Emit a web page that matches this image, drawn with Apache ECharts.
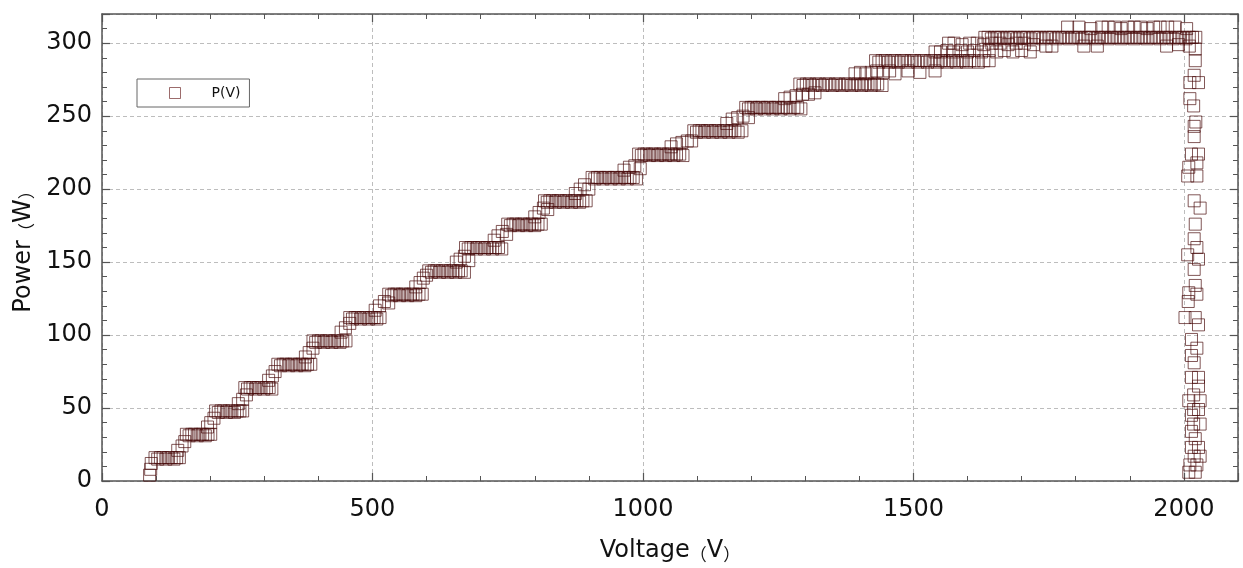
<!DOCTYPE html>
<html>
<head>
<meta charset="utf-8">
<title>P(V)</title>
<script src="https://cdn.jsdelivr.net/npm/echarts@6/dist/echarts.min.js"></script>
<style>
  html, body { margin: 0; padding: 0; background: #fff; }
  #chart { width: 1243px; height: 568px; }
</style>
</head>
<body>
<div id="chart"></div>
<script>
// rising part of the curve, [voltage, power]
var rising = [
  [88,4],[90,8],[91,12],
  [98,16],[103,15],[108,16],[113,16],[118,15],[123,16],[128,16],[133,15],[138,16],[143,16],
  [140,21],[148,24],[153,27],
  [156,32],[161,31],[166,32],[171,32],[176,31],[181,32],[186,32],[191,31],[196,32],[201,32],
  [195,37],[201,40],[207,43],
  [210,48],[215,47],[220,48],[225,48],[230,47],[235,48],[240,48],[245,47],[250,48],[255,48],[260,48],
  [252,53],[260,56],[267,59],
  [264,64],[269,63],[274,64],[279,64],[284,63],[289,64],[294,64],[299,63],[304,64],[309,64],[314,63],
  [308,69],[315,72],[320,75],
  [325,80],[330,79],[335,80],[340,80],[345,79],[350,80],[355,80],[360,79],[365,80],[370,80],[375,79],[380,80],[386,80],
  [376,85],[383,88],[390,91],
  [390,96],[395,95],[400,96],[405,96],[410,95],[415,96],[420,96],[425,95],[430,96],[435,96],[440,95],[445,96],[451,96],
  [442,102],[450,105],[458,108],
  [458,112],[463,111],[468,112],[473,112],[478,111],[483,112],[488,112],[493,111],[498,112],[503,112],[508,111],[514,112],
  [505,117],[513,120],[522,123],[530,122],
  [530,128],[535,127],[540,128],[545,128],[550,127],[555,128],[560,128],[565,127],[570,128],[575,128],[580,127],[586,128],[592,128],
  [580,133],[588,136],[594,139],[600,141],
  [604,144],[609,143],[614,144],[619,144],[624,143],[629,144],[634,144],[639,143],[644,144],[649,144],[654,143],[659,144],[664,144],[670,143],
  [655,150],[662,152],[670,154],[678,151],
  [672,160],[677,159],[682,160],[687,160],[692,159],[697,160],[702,160],[707,159],[712,160],[717,160],[722,159],[727,160],[733,160],[739,159],
  [725,165],[732,168],[740,171],[748,169],
  [750,176],[755,175],[760,176],[765,176],[770,175],[775,176],[780,176],[785,175],[790,176],[795,176],[800,175],[806,176],[812,176],
  [800,181],[808,184],[816,187],[824,186],
  [818,192],[823,191],[828,192],[833,192],[838,191],[843,192],[848,192],[853,191],[858,192],[863,192],[868,191],[873,192],[878,192],[883,191],[889,192],[895,192],
  [875,197],[884,200],[892,203],[900,200],
  [906,208],[911,207],[916,208],[921,208],[926,207],[931,208],[936,208],[941,207],[946,208],[951,208],[956,207],[961,208],[966,208],[971,207],[976,208],[982,208],[988,207],
  [965,213],[975,215],[985,216],[995,214],
  [992,224],[997,223],[1002,224],[1007,224],[1012,223],[1017,224],[1022,224],[1027,223],[1032,224],[1037,224],[1042,223],[1047,224],[1052,224],[1057,223],[1062,224],[1068,224],[1074,223],
  [1052,229],[1062,231],[1072,232],[1082,233],[1090,233],
  [1094,240],[1099,239],[1104,240],[1109,240],[1114,239],[1119,240],[1124,240],[1129,239],[1134,240],[1139,240],[1144,239],[1149,240],[1154,240],[1159,239],[1164,240],[1170,240],[1176,239],[1183,240],
  [1155,245],[1165,248],[1175,249],[1185,250],[1195,249],
  [1190,256],[1195,255],[1200,256],[1205,256],[1210,255],[1215,256],[1220,256],[1225,255],[1230,256],[1235,256],[1240,255],[1245,256],[1250,256],[1255,255],[1260,256],[1266,256],[1272,255],[1279,256],[1286,256],[1292,255],
  [1262,262],[1272,263],[1283,264],[1295,265],[1306,265],[1318,266],
  [1290,272],[1296,271],[1302,272],[1308,272],[1314,271],[1320,272],[1326,272],[1332,271],[1338,272],[1344,272],[1350,271],[1356,272],[1362,272],[1368,271],[1374,272],[1380,272],[1386,271],[1392,272],[1398,272],[1404,271],[1410,272],[1416,272],[1422,271],[1428,272],[1434,272],[1442,271],
  [1392,279],[1402,280],[1412,279],[1422,280],[1432,281],[1444,280],[1456,281],[1466,279],[1490,281],[1512,280],[1540,281],
  [1430,288],[1436,287],[1442,288],[1448,288],[1454,287],[1460,288],[1466,288],[1472,287],[1478,288],[1484,288],[1490,287],[1496,288],[1502,288],[1508,287],[1514,288],[1520,288],[1526,287],[1532,288],[1538,288],[1544,287],[1550,288],[1556,288],[1562,287],[1568,288],[1574,288],[1580,287],[1586,288],[1592,288],[1598,287],[1604,288],[1612,288],[1620,287],[1630,288],[1640,288],
  [1540,294],[1550,294],[1562,295],[1574,294],[1588,295],[1600,294],[1612,295],[1626,294],[1640,295],[1654,294],[1668,295],[1684,294],[1700,295],[1716,294],
  [1565,300],[1575,300],[1590,299],[1604,300],[1618,300],[1630,299],[1645,300],[1660,300],[1675,299],[1690,300],[1705,300],[1722,299]
];

// plateau near the maximum power point
var plateau = [
  [1632,304],[1638,304],[1644,303],[1650,304],[1656,304],[1662,304],[1668,303],[1674,304],[1680,304],[1686,304],
  [1692,303],[1698,304],[1704,304],[1710,304],[1716,303],[1722,304],[1728,304],[1734,304],[1740,303],[1746,304],
  [1752,304],[1758,304],[1764,303],[1770,304],[1776,304],[1782,304],[1788,303],[1794,304],[1800,304],[1806,304],
  [1812,303],[1818,304],[1824,304],[1830,304],[1836,303],[1842,304],[1848,304],[1854,304],[1860,303],[1866,304],
  [1872,304],[1878,304],[1884,303],[1890,304],[1896,304],[1902,304],[1908,303],[1914,304],[1920,304],[1926,304],
  [1932,303],[1938,304],[1944,304],[1950,304],[1956,303],[1962,304],[1968,304],[1974,304],[1980,303],[1986,304],
  [1992,304],[1998,304],[2004,303],[2010,304],[2016,304],[2022,304],
  [1785,311],[1806,311],[1828,310],[1848,311],[1860,311],[1872,311],[1884,310],[1896,311],[1908,311],[1920,311],
  [1932,310],[1944,311],[1956,311],[1970,311],[1984,311],[2005,310],
  [1745,298],[1756,298],[1815,298],[1840,298],[1968,298],[1990,299],[2010,298]
];

// steep drop at open-circuit voltage
var drop = [
  [2021,296],[2021,288],[2019,278],[2011,273],[2027,273],[2011,262],[2018,257],[2022,246],[2019,243],[2019,236],
  [2014,224],[2027,224],[2024,218],[2009,215],[2007,209],[2024,209],[2019,192],[2030,187],[2021,176],[2019,166],
  [2024,160],[2007,155],[2027,152],[2019,145],[2021,134],[2009,129],[2024,128],[2008,123],[2002,112],[2021,112],
  [2027,107],[2014,97],[2024,91],[2014,86],[2019,81],[2014,71],[2027,71],[2027,65],[2018,59],[2009,55],
  [2030,55],[2018,49],[2027,49],[2014,45],[2018,39],[2030,39],[2014,34],[2021,29],[2014,23],[2027,23],
  [2019,17],[2030,17],[2011,11],[2024,11],[2009,6],[2021,6]
];

var points = rising.concat(plateau, drop);

var chart = echarts.init(document.getElementById('chart'));

var axisColor = '#555';
var labelFont = { fontFamily: 'DejaVu Sans', fontSize: 24, color: '#111' };
var markColor = 'rgba(72,10,10,0.85)';
var nameRich = {
  t: { fontFamily: 'DejaVu Sans', fontSize: 24, color: '#111' },
  p: { fontFamily: 'Noto Sans CJK SC', fontSize: 17, color: '#111', verticalAlign: 'bottom' }
};

function boxAxis(pos, min, max, interval) {
  return {
    type: 'value',
    position: pos,
    min: min,
    max: max,
    interval: interval,
    axisLine: { show: true, onZero: false, lineStyle: { color: axisColor, width: 1.5 } },
    axisTick: { show: true, inside: true, length: 8, lineStyle: { color: axisColor, width: 1.2 } },
    minorTick: { show: true, splitNumber: 5, length: 5, lineStyle: { color: axisColor, width: 1 } },
    axisLabel: { show: false },
    splitLine: { show: false }
  };
}

function plain(v) { return String(v); }

var xMain = boxAxis('bottom', 0, 2100, 500);
xMain.axisLabel = Object.assign({ show: true, margin: 17, showMaxLabel: false, formatter: plain }, labelFont);
xMain.splitLine = { show: true, lineStyle: { color: '#bdbdbd', type: [4, 3], width: 1 } };
xMain.name = '{t|Voltage}{p|（}{t|V}{p|）}';
xMain.nameLocation = 'middle';
xMain.nameGap = 58;
xMain.nameTextStyle = { rich: nameRich };

var yMain = boxAxis('left', 0, 320, 50);
yMain.axisLabel = Object.assign({ show: true, margin: 10, showMaxLabel: false, formatter: plain }, labelFont);
yMain.splitLine = { show: true, lineStyle: { color: '#bdbdbd', type: [4, 3], width: 1 } };
yMain.name = '{t|Power}{p|（}{t|W}{p|）}';
yMain.nameLocation = 'middle';
yMain.nameGap = 66;
yMain.nameTextStyle = { rich: nameRich };

chart.setOption({
  animation: false,
  backgroundColor: '#fff',
  grid: { left: 102, right: 5, top: 14, bottom: 85 },
  legend: {
    data: ['P(V)'],
    left: 137,
    top: 79,
    orient: 'vertical',
    padding: [7, 9, 7, 32],
    itemWidth: 11,
    itemHeight: 11,
    icon: 'rect',
    borderColor: '#666',
    borderWidth: 1,
    borderRadius: 0,
    itemStyle: { color: 'rgba(0,0,0,0)', borderColor: 'rgba(110,40,40,0.85)', borderWidth: 1 },
    textStyle: { fontFamily: 'DejaVu Sans', fontSize: 14, color: '#111', padding: [0, 0, 0, 26] }
  },
  xAxis: [xMain, boxAxis('top', 0, 2100, 500)],
  yAxis: [yMain, boxAxis('right', 0, 320, 50)],
  series: [{
    name: 'P(V)',
    type: 'scatter',
    xAxisIndex: 0,
    yAxisIndex: 0,
    symbol: 'rect',
    symbolSize: 12,
    itemStyle: { color: 'rgba(0,0,0,0)', borderColor: markColor, borderWidth: 1 },
    data: points
  }]
});
</script>
</body>
</html>
